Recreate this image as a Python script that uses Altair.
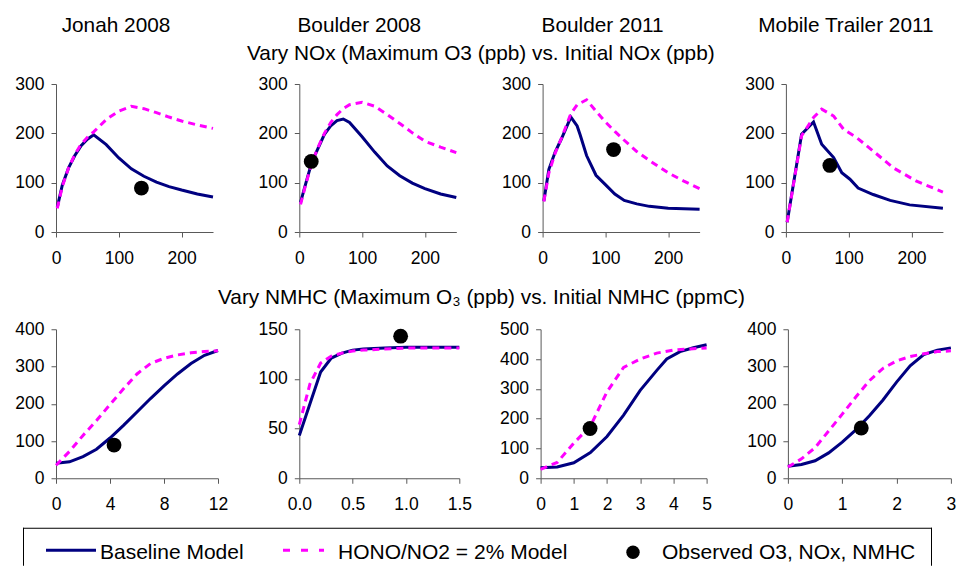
import altair as alt
import pandas as pd

FONT = "Liberation Sans"
NAVY = "#000080"
MAGENTA = "#FF00FF"
AXIS_GREY = "#595959"

sites = ["Jonah 2008", "Boulder 2008", "Boulder 2011", "Mobile Trailer 2011"]
row_titles = ["Vary NOx (Maximum O3 (ppb) vs. Initial NOx (ppb)",
              "Vary NMHC (Maximum O\u2083 (ppb) vs. Initial NMHC (ppmC)"]
legend_labels = ["Baseline Model", "HONO/NO2 = 2% Model", "Observed O3, NOx, NMHC"]

# ---------------- Vary NOx: initial NOx (ppb) vs maximum O3 (ppb) ----------------
jonah_nox_x = [2, 10, 20, 30, 40, 50, 60, 80, 100, 120, 140, 160, 180, 200, 225, 250]
jonah_nox_base = [50, 95, 130, 155, 175, 188, 197, 177, 150, 128, 113, 101, 92, 85, 77, 71]
jonah_nox_hono = [48, 92, 130, 157, 178, 192, 203, 228, 245, 255, 250, 242, 233, 225, 217, 210]

b08_nox_x = [2, 10, 20, 30, 40, 50, 60, 70, 80, 100, 120, 140, 160, 180, 200, 225, 250]
b08_nox_base = [60, 97, 142, 170, 198, 215, 226, 229, 222, 193, 162, 134, 114, 99, 88, 77, 70]
b08_nox_hono = [56, 95, 140, 172, 200, 222, 238, 250, 258, 263, 255, 238, 220, 201, 184, 172, 161]

b11_nox_base_x = [2, 10, 20, 30, 45, 55, 60, 70, 85, 100, 115, 130, 150, 170, 200, 225, 250]
b11_nox_base = [63, 127, 162, 189, 233, 215, 196, 155, 115, 96, 77, 64, 57, 52, 48, 47, 46]
b11_nox_hono_x = [2, 10, 20, 30, 45, 55, 70, 85, 100, 115, 130, 150, 170, 200, 225, 250]
b11_nox_hono = [62, 120, 160, 190, 240, 258, 268, 245, 223, 204, 186, 163, 145, 120, 103, 88]

mt_nox_base_x = [2, 25, 44, 57, 76, 89, 102, 115, 139, 166, 197, 250]
mt_nox_base = [20, 198, 223, 178, 151, 120, 107, 89, 76, 64, 55, 48]
mt_nox_hono_x = [2, 25, 44, 57, 76, 92, 113, 139, 171, 208, 250]
mt_nox_hono = [20, 195, 232, 249, 235, 208, 191, 164, 130, 103, 81]

# ---------------- Vary NMHC: initial NMHC (ppmC) vs maximum O3 (ppb) ----------------
jonah_nmhc_x = [0, 1, 2, 3, 4, 5, 6, 7, 8, 9, 10, 11, 12]
jonah_nmhc_base = [40, 44, 58, 78, 108, 142, 178, 214, 248, 280, 308, 330, 343]
jonah_nmhc_hono = [35, 72, 115, 155, 198, 240, 280, 308, 322, 331, 337, 340, 342]

b08_nmhc_x = [0, 0.1, 0.2, 0.3, 0.4, 0.5, 0.6, 0.8, 1.0, 1.2, 1.5]
b08_nmhc_base = [43, 75, 107, 121, 126, 129, 130, 131, 132, 132, 132]
b08_nmhc_hono = [54, 95, 116, 123, 126, 128, 129, 130, 131, 131, 131]

b11_nmhc_base_x = [0, 0.5, 1, 1.5, 2, 2.5, 3, 3.5, 3.8, 4.2, 4.6, 5]
b11_nmhc_base = [35, 38, 52, 86, 140, 212, 295, 362, 400, 425, 438, 448]
b11_nmhc_hono_x = [0, 0.5, 1, 1.5, 2, 2.5, 3, 3.5, 4, 4.5, 5]
b11_nmhc_hono = [30, 53, 118, 175, 290, 372, 400, 420, 430, 434, 437]

mt_nmhc_x = [0, 0.25, 0.5, 0.75, 1, 1.25, 1.5, 1.75, 2, 2.25, 2.5, 2.75, 3]
mt_nmhc_base = [32, 37, 47, 68, 97, 130, 168, 210, 258, 302, 332, 344, 350]
mt_nmhc_hono = [30, 52, 82, 127, 172, 218, 262, 295, 315, 327, 334, 340, 342]

# ---------------- Observations (one per site) ----------------
obs_nox = [136, 19, 113, 70]
obs_nmhc = [4.3, 0.95, 1.49, 1.35]
obs_o3 = [89, 143, 167, 135]


def panel(bx, by, hx, hy, ox, oy, xdom, xvals, ydom, yvals, w, h, fmt):
    d_base = pd.DataFrame({"x": bx, "y": by})
    d_hono = pd.DataFrame({"x": hx, "y": hy})
    d_obs = pd.DataFrame({"x": [ox], "y": [oy]})
    X = alt.X("x:Q", scale=alt.Scale(domain=xdom, nice=False, zero=False),
              axis=alt.Axis(values=xvals, format=fmt, title=None))
    Y = alt.Y("y:Q", scale=alt.Scale(domain=ydom, nice=False),
              axis=alt.Axis(values=yvals, title=None))
    l1 = alt.Chart(d_base).mark_line(color=NAVY, strokeWidth=3).encode(X, Y)
    l2 = alt.Chart(d_hono).mark_line(color=MAGENTA, strokeWidth=3,
                                     strokeDash=[7, 5]).encode(X, Y)
    p = alt.Chart(d_obs).mark_point(filled=True, color="black", size=220,
                                    opacity=1).encode(X, Y)
    return alt.layer(l1, l2, p).properties(width=w, height=h)


TOP_H = 148
BOT_H = 149
top_y = [0, 100, 200, 300]
top_x = [0, 100, 200]

top_panels = [
    panel(jonah_nox_x, jonah_nox_base, jonah_nox_x, jonah_nox_hono, obs_nox[0], obs_o3[0],
          [0, 250], top_x, [0, 300], top_y, 157, TOP_H, "d"),
    panel(b08_nox_x, b08_nox_base, b08_nox_x, b08_nox_hono, obs_nox[1], obs_o3[1],
          [0, 250], top_x, [0, 300], top_y, 157, TOP_H, "d"),
    panel(b11_nox_base_x, b11_nox_base, b11_nox_hono_x, b11_nox_hono, obs_nox[2], obs_o3[2],
          [0, 250], top_x, [0, 300], top_y, 157, TOP_H, "d"),
    panel(mt_nox_base_x, mt_nox_base, mt_nox_hono_x, mt_nox_hono, obs_nox[3], obs_o3[3],
          [0, 250], top_x, [0, 300], top_y, 157, TOP_H, "d"),
]

bottom_panels = [
    panel(jonah_nmhc_x, jonah_nmhc_base, jonah_nmhc_x, jonah_nmhc_hono, obs_nmhc[0], obs_o3[0],
          [0, 12], [0, 4, 8, 12], [0, 400], [0, 100, 200, 300, 400], 162, BOT_H, "d"),
    panel(b08_nmhc_x, b08_nmhc_base, b08_nmhc_x, b08_nmhc_hono, obs_nmhc[1], obs_o3[1],
          [0, 1.5], [0, 0.5, 1.0, 1.5], [0, 150], [0, 50, 100, 150], 160, BOT_H, ".1f"),
    panel(b11_nmhc_base_x, b11_nmhc_base, b11_nmhc_hono_x, b11_nmhc_hono, obs_nmhc[2], obs_o3[2],
          [0, 5], [0, 1, 2, 3, 4, 5], [0, 500], [0, 100, 200, 300, 400, 500], 166, BOT_H, "d"),
    panel(mt_nmhc_x, mt_nmhc_base, mt_nmhc_x, mt_nmhc_hono, obs_nmhc[3], obs_o3[3],
          [0, 3], [0, 1, 2, 3], [0, 400], [0, 100, 200, 300, 400], 163, BOT_H, "d"),
]

# column headers
blank = pd.DataFrame({"t": [""]})
headers = [
    alt.Chart(blank).mark_text().encode(text="t:N").properties(
        width=157, height=1, title=alt.TitleParams(s, offset=2, dx=-18.5))
    for s in sites
]
header_row = alt.hconcat(*headers, spacing=86.3, bounds="flush")

top_row = alt.hconcat(*top_panels, spacing=86.3, bounds="flush",
                      title=alt.TitleParams(row_titles[0], offset=10.25, anchor="start",
                                            frame="group", dx=191))
bottom_row = alt.hconcat(*bottom_panels, spacing=81.3, bounds="flush",
                         title=alt.TitleParams(row_titles[1], offset=11, anchor="start",
                                               frame="group", dx=162))

# legend box (positions relative to the panel column origin)
lg = pd.DataFrame({"label": legend_labels})
LEG_W, LEG_H = 820, 39
one = lg.head(1)
edge = dict(color="black", strokeWidth=1)
box_top = alt.Chart(one).mark_rule(**edge).encode(
    x=alt.value(-33), x2=alt.value(876), y=alt.value(0.5))
box_left = alt.Chart(one).mark_rule(**edge).encode(
    x=alt.value(-32.5), y=alt.value(0), y2=alt.value(LEG_H - 1))
box_right = alt.Chart(one).mark_rule(**edge).encode(
    x=alt.value(875.5), y=alt.value(0), y2=alt.value(LEG_H - 1))
leg_base = alt.Chart(one).mark_rule(color=NAVY, strokeWidth=3).encode(
    x=alt.value(-10), x2=alt.value(40), y=alt.value(22.5))
leg_hono = alt.Chart(one).mark_rule(color=MAGENTA, strokeWidth=3,
                                    strokeDash=[7, 11]).encode(
    x=alt.value(227), x2=alt.value(268), y=alt.value(22.5))
leg_obs = alt.Chart(one).mark_point(filled=True, color="black", size=180,
                                    opacity=1).encode(
    x=alt.value(577), y=alt.value(24.5))
leg_text = [
    alt.Chart(lg.iloc[[i]]).mark_text(align="left", baseline="middle", font=FONT,
                                      fontSize=21, color="black").encode(
        text="label:N", x=alt.value(xp), y=alt.value(25.5))
    for i, xp in enumerate([44, 282, 606])
]
legend = alt.layer(box_top, box_left, box_right, leg_base, leg_hono, leg_obs,
                   *leg_text).properties(width=LEG_W, height=LEG_H)

upper = alt.vconcat(header_row, top_row, spacing=-8.5)
lower = alt.vconcat(bottom_row, legend, spacing=13.5)

chart = alt.vconcat(upper, lower, spacing=20.75).properties(
    padding={"left": 14, "top": 14.5, "right": 0, "bottom": 0}
).configure_view(stroke=None).configure_axis(
    grid=False, domainColor=AXIS_GREY, tickColor=AXIS_GREY, tickSize=5,
    labelFont=FONT, labelFontSize=17.5, labelColor="black",
    labelFlush=False, labelOverlap=False
).configure_axisX(labelPadding=12).configure_axisY(labelPadding=7).configure_title(
    font=FONT, fontSize=20.8, fontWeight="normal", color="black", anchor="middle"
)

chart.save("out.html", embed_options={"renderer": "svg", "actions": False})
